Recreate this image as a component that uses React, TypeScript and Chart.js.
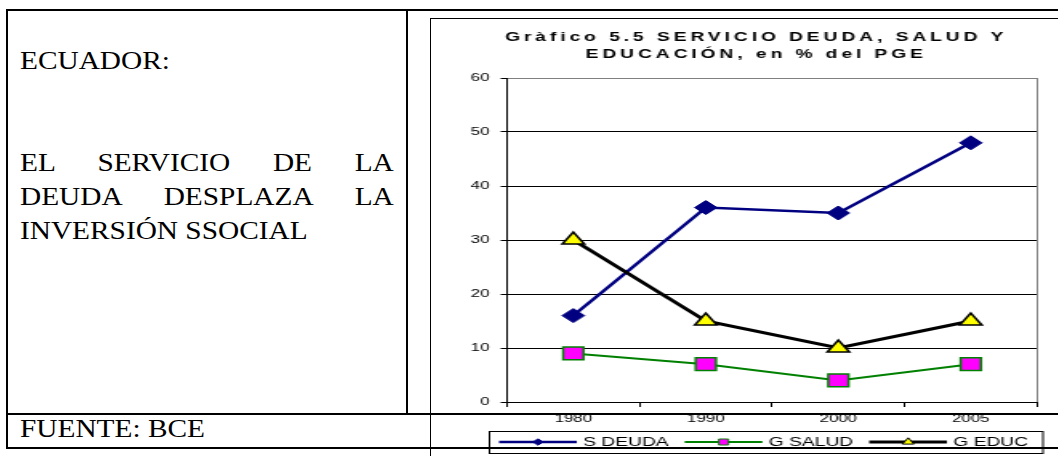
import React, { useEffect, useRef } from 'react';
import { Chart, registerables } from 'chart.js';

Chart.register(...registerables);

// ---- data ----
const categories = ['1980', '1990', '2000', '2005'];
const deudaValues = [16, 36, 35, 48];
const saludValues = [9, 7, 4, 7];
const educValues = [30, 15, 10, 15];
const seriesNames = ['S DEUDA', 'G SALUD', 'G EDUC'];
const yMin = 0;
const yMax = 60;
const yStep = 10;
const titleLines = ['Gràfico 5.5 SERVICIO DEUDA, SALUD Y', 'EDUCACIÓN, en % del PGE'];
const leftHeading = 'ECUADOR:';
const leftLines = ['EL SERVICIO DE LA', 'DEUDA DESPLAZA LA', 'INVERSIÓN SSOCIAL'];
const sourceText = 'FUENTE: BCE';

const SANS = 'Arial, "Liberation Sans", Helvetica, sans-serif';
const SERIF = '"Liberation Serif", "Times New Roman", Times, serif';

// canvas is drawn at 392 px wide and shown stretched to 628 px, like the reference picture
const CANVAS_W = 392;
const CANVAS_H = 437;

const titlePlugin = {
  id: 'excelTitle',
  afterDraw(chart: any) {
    const ctx = chart.ctx;
    ctx.save();
    ctx.font = `bold 12px ${SANS}`;
    ctx.fillStyle = '#000';
    ctx.textAlign = 'center';
    ctx.textBaseline = 'middle';
    try { (ctx as any).letterSpacing = '2.45px'; } catch (e) {}
    ctx.fillText(titleLines[0], 203, 19);
    ctx.fillText(titleLines[1], 203, 36);
    ctx.restore();
  },
};

const plotBorderPlugin = {
  id: 'plotBorder',
  beforeDatasetsDraw(chart: any) {
    const { ctx, chartArea } = chart;
    ctx.save();
    ctx.strokeStyle = '#808080';
    ctx.lineWidth = 1;
    const x = Math.round(chartArea.right) + 0.5;
    ctx.beginPath();
    ctx.moveTo(x, chartArea.top);
    ctx.lineTo(x, chartArea.bottom);
    ctx.stroke();
    ctx.restore();
  },
};

function drawMarker(ctx: CanvasRenderingContext2D, style: string, x: number, y: number, r: number, fill: string, stroke: string, lw: number) {
  ctx.beginPath();
  if (style === 'rectRot') {
    ctx.moveTo(x - r, y);
    ctx.lineTo(x, y - r);
    ctx.lineTo(x + r, y);
    ctx.lineTo(x, y + r);
    ctx.closePath();
  } else if (style === 'rect') {
    ctx.rect(x - r, y - r, 2 * r, 2 * r);
  } else {
    ctx.moveTo(x, y - r);
    ctx.lineTo(x + r * 0.866, y + r * 0.5);
    ctx.lineTo(x - r * 0.866, y + r * 0.5);
    ctx.closePath();
  }
  ctx.fillStyle = fill;
  ctx.fill();
  ctx.lineWidth = lw;
  ctx.strokeStyle = stroke;
  ctx.stroke();
}

const legendPlugin = {
  id: 'excelLegend',
  afterDraw(chart: any) {
    const ctx = chart.ctx as CanvasRenderingContext2D;
    ctx.save();
    ctx.strokeStyle = '#000';
    ctx.lineWidth = 1;
    ctx.strokeRect(36.5, 412.5, 345.5, 22);
    ctx.font = `12px ${SANS}`;
    ctx.textBaseline = 'middle';
    ctx.textAlign = 'left';
    const y = 423;
    let x = 42.5;
    const sizes = [3.2, 3, 4.2];
    chart.data.datasets.forEach((ds: any, i: number) => {
      ctx.beginPath();
      ctx.strokeStyle = ds.borderColor;
      ctx.lineWidth = ds.borderWidth;
      ctx.moveTo(x, y);
      ctx.lineTo(x + 48.5, y);
      ctx.stroke();
      drawMarker(ctx, ds.pointStyle, x + 24.3, y, sizes[i], ds.pointBackgroundColor, ds.pointBorderColor, 1);
      ctx.fillStyle = '#000';
      ctx.fillText(ds.label, x + 52.5, y + 0.5);
      const w = ctx.measureText(ds.label).width;
      x = x + 52.5 + w + 10;
    });
    ctx.restore();
  },
};

export default function App() {
  const ref = useRef<HTMLCanvasElement>(null);

  useEffect(() => {
    Chart.defaults.font.family = SANS;
    const chart = new Chart(ref.current as HTMLCanvasElement, {
      type: 'line',
      data: {
        labels: categories,
        datasets: [
          {
            label: seriesNames[0],
            data: deudaValues,
            borderColor: '#000080',
            backgroundColor: '#000080',
            borderWidth: 2.5,
            pointStyle: 'rectRot',
            pointRadius: 7,
            pointBorderWidth: 1,
            pointBackgroundColor: '#000080',
            pointBorderColor: '#000080',
            tension: 0,
            order: 2,
          },
          {
            label: seriesNames[1],
            data: saludValues,
            borderColor: '#008000',
            backgroundColor: '#FF00FF',
            borderWidth: 2,
            pointStyle: 'rect',
            pointRadius: 9,
            pointBorderWidth: 1.5,
            pointBackgroundColor: '#FF00FF',
            pointBorderColor: '#008000',
            tension: 0,
            order: 1,
          },
          {
            label: seriesNames[2],
            data: educValues,
            borderColor: '#000000',
            backgroundColor: '#FFFF00',
            borderWidth: 3,
            pointStyle: 'triangle',
            pointRadius: 8,
            pointBorderWidth: 1.5,
            pointBackgroundColor: '#FFFF00',
            pointBorderColor: '#000000',
            tension: 0,
            order: 0,
          },
        ],
      },
      options: {
        responsive: false,
        animation: false,
        events: [],
        layout: { padding: { top: 59, right: 13.7, bottom: 24, left: 0 } },
        plugins: {
          legend: { display: false },
          tooltip: { enabled: false },
          title: { display: false },
        },
        scales: {
          x: {
            offset: true,
            grid: {
              offset: true,
              drawOnChartArea: false,
              drawTicks: true,
              tickLength: 5,
              color: '#000',
              lineWidth: 1,
            },
            border: { color: '#000', width: 1 },
            ticks: { font: { size: 10.5 }, color: '#000', padding: 6, maxRotation: 0, autoSkip: false },
            afterFit: (s: any) => { s.height = 30; },
          },
          y: {
            min: yMin,
            max: yMax,
            ticks: { stepSize: yStep, font: { size: 10.5 }, color: '#000', padding: 7 },
            grid: {
              color: (c: any) => (c.tick && c.tick.value === yMax ? '#808080' : '#000'),
              tickColor: '#000',
              lineWidth: 1,
              tickLength: 4,
              drawTicks: true,
            },
            border: { color: '#000', width: 1 },
            afterFit: (s: any) => { s.width = 47.5; },
          },
        },
      },
      plugins: [plotBorderPlugin, titlePlugin, legendPlugin],
    } as any);
    return () => chart.destroy();
  }, []);

  const lineBase: React.CSSProperties = { position: 'absolute', background: '#000' };
  const textBase: React.CSSProperties = {
    position: 'absolute',
    left: 20,
    width: 325,
    fontFamily: SERIF,
    fontSize: 25.5,
    lineHeight: '34px',
    color: '#000',
    transform: 'scaleX(1.15)',
    transformOrigin: '0 0',
    whiteSpace: 'nowrap',
  };
  const justify: React.CSSProperties = {
    ...textBase,
    whiteSpace: 'normal',
    textAlign: 'justify',
    textAlignLast: 'justify' as any,
  };

  return (
    <div style={{ position: 'absolute', left: 0, top: 0, width: 1058, height: 456, overflow: 'hidden', background: '#fff' }}>
      <div style={{ ...textBase, top: 44 }}>{leftHeading}</div>
      <div style={{ ...justify, top: 146 }}>{leftLines[0]}</div>
      <div style={{ ...justify, top: 180 }}>{leftLines[1]}</div>
      <div style={{ ...textBase, top: 214 }}>{leftLines[2]}</div>
      <div style={{ ...textBase, top: 412 }}>{sourceText}</div>

      <div
        style={{
          position: 'absolute',
          left: 430,
          top: 18,
          width: 700,
          height: 500,
          borderLeft: '1px solid #000',
          borderTop: '1px solid #000',
          boxSizing: 'border-box',
        }}
      >
        <canvas
          ref={ref}
          width={CANVAS_W}
          height={CANVAS_H}
          style={{ position: 'absolute', left: 0, top: 0, width: 628, height: CANVAS_H }}
        />
      </div>

      {/* table rules */}
      <div style={{ ...lineBase, left: 6, top: 9, width: 1060, height: 2 }} />
      <div style={{ ...lineBase, left: 6, top: 9, width: 2, height: 440 }} />
      <div style={{ ...lineBase, left: 406, top: 9, width: 2, height: 406 }} />
      <div style={{ ...lineBase, left: 6, top: 413, width: 1060, height: 2 }} />
      <div style={{ ...lineBase, left: 6, top: 447, width: 1060, height: 2 }} />
    </div>
  );
}
